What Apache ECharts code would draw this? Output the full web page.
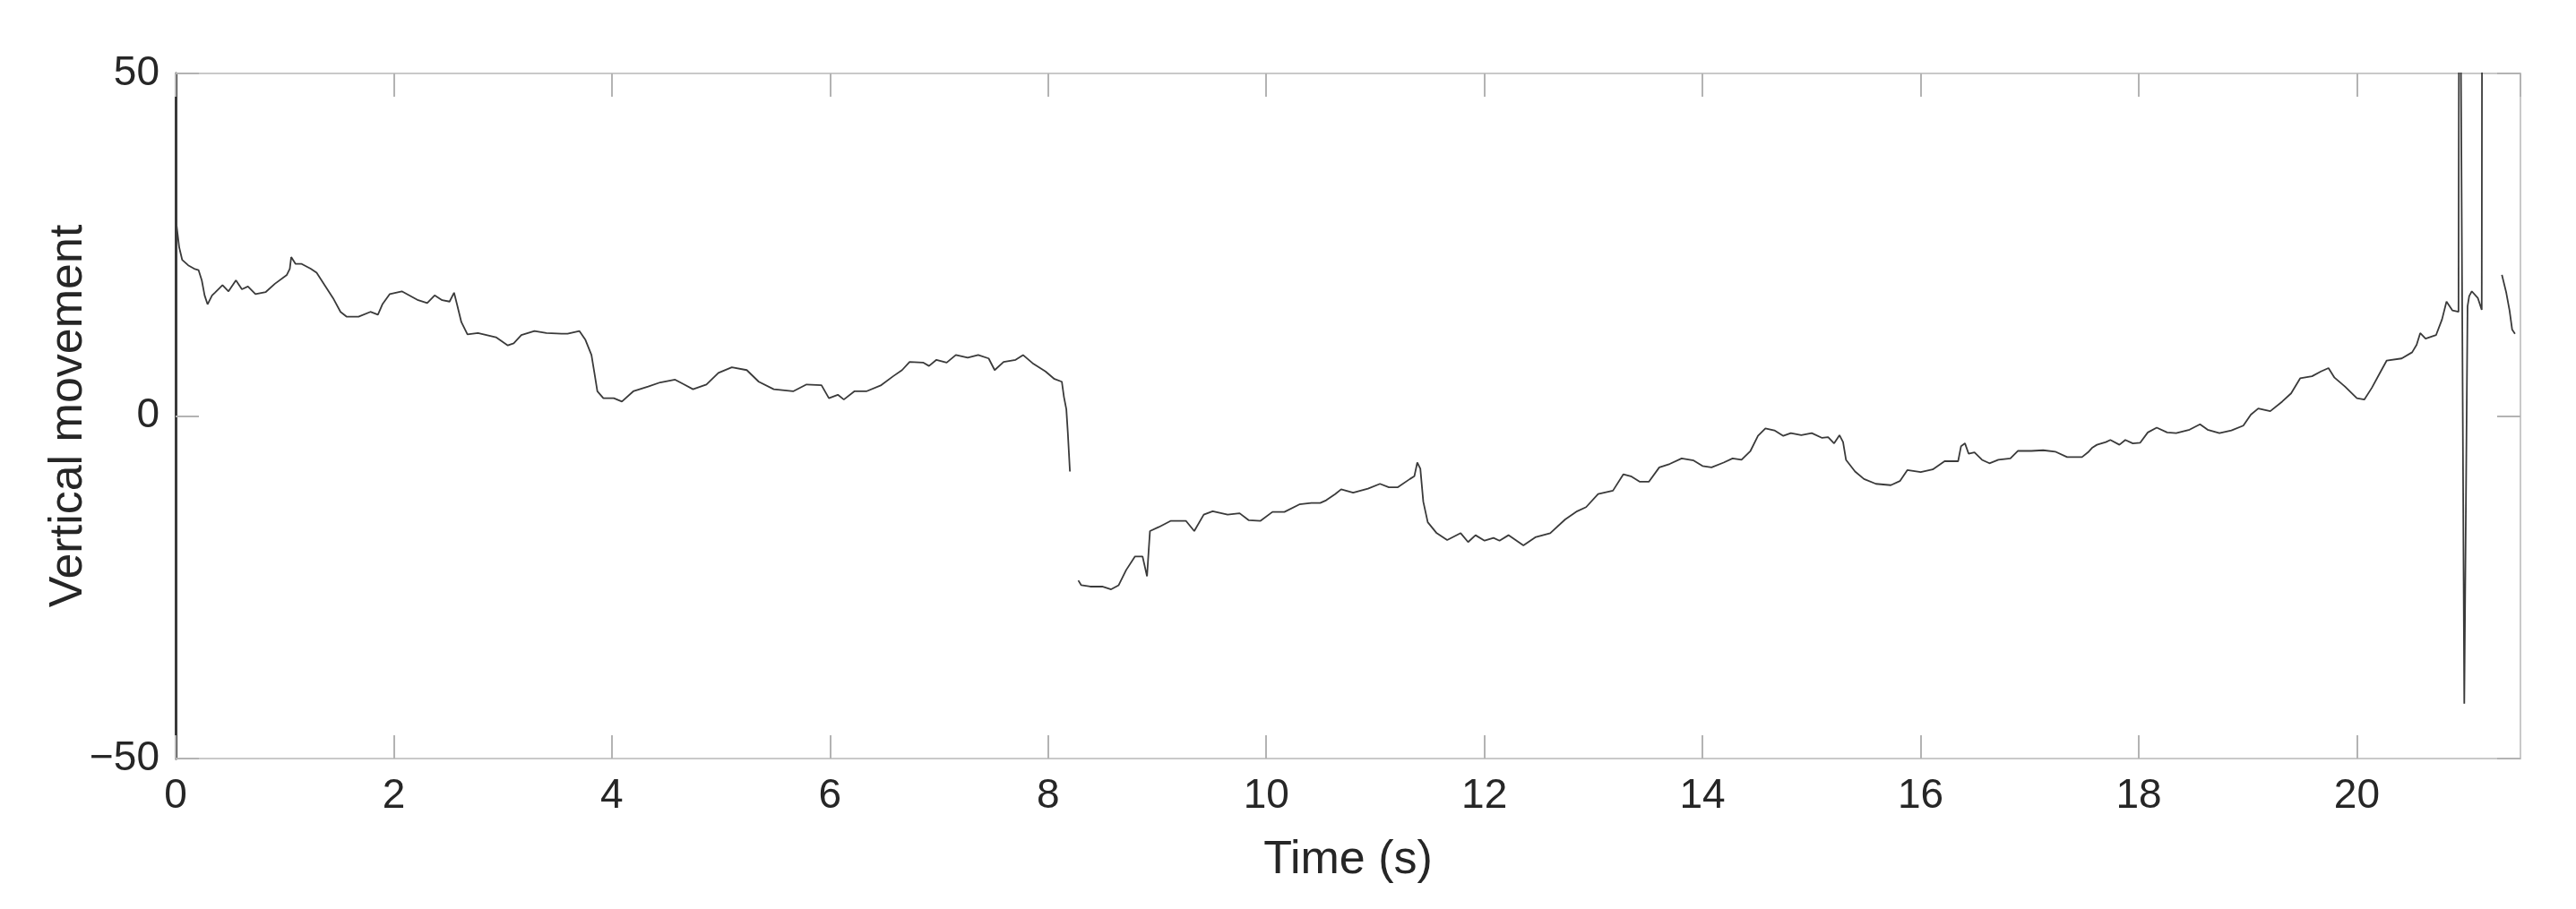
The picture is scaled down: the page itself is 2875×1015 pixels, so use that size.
<!DOCTYPE html>
<html>
<head>
<meta charset="utf-8">
<script src="https://cdn.jsdelivr.net/npm/echarts@6/dist/echarts.min.js"></script>
<style>
html,body{margin:0;padding:0;background:#fff;}
#chart{width:2875px;height:1015px;}
</style>
</head>
<body>
<div id="chart"></div>
<script>
// Time (s); null in values marks a break in the trace
const times = [
  0, 0.033, 0.06, 0.115, 0.17, 0.21, 0.24, 0.266, 0.293, 0.334, 0.36, 0.43, 0.485, 0.553, 0.608, 0.663,
  0.732, 0.827, 0.91, 1.02, 1.047, 1.06, 1.10, 1.156, 1.238, 1.293, 1.375, 1.444, 1.512, 1.567, 1.677,
  1.786, 1.855, 1.896, 1.964, 2.074, 2.224, 2.307, 2.375, 2.444, 2.512, 2.553, 2.58, 2.62, 2.676, 2.772,
  2.937, 3.046, 3.10, 3.17, 3.29, 3.40, 3.54, 3.594, 3.703, 3.758, 3.813, 3.84, 3.867, 3.922, 4.018,
  4.092, 4.196, 4.333, 4.443, 4.58, 4.662, 4.744, 4.867, 4.977, 5.10, 5.237, 5.347, 5.484, 5.662, 5.785,
  5.922, 5.99, 6.072, 6.127, 6.223, 6.333, 6.47, 6.579, 6.661, 6.73, 6.853, 6.908, 6.976, 7.07, 7.154,
  7.263, 7.359, 7.455, 7.51, 7.592, 7.702, 7.77, 7.866, 7.976, 8.058, 8.126, 8.145, 8.167, 8.181, 8.2,
  8.24,
  8.277, 8.304, 8.386, 8.496, 8.578, 8.647, 8.715, 8.797, 8.866, 8.907, 8.921, 8.934, 9.016, 9.126,
  9.263, 9.34, 9.427, 9.509, 9.646, 9.756, 9.838, 9.948, 10.057, 10.167, 10.304, 10.413, 10.495, 10.55,
  10.632, 10.687, 10.797, 10.933, 11.043, 11.125, 11.207, 11.317, 11.358, 11.385, 11.413, 11.44, 11.481,
  11.563, 11.659, 11.783, 11.851, 11.919, 12.002, 12.084, 12.139, 12.221, 12.358, 12.467, 12.604, 12.741,
  12.851, 12.933, 13.043, 13.179, 13.275, 13.344, 13.426, 13.508, 13.604, 13.7, 13.809, 13.919, 14.0,
  14.083, 14.194, 14.276, 14.358, 14.44, 14.509, 14.577, 14.659, 14.741, 14.81, 14.906, 15.002, 15.097,
  15.152, 15.207, 15.256, 15.289, 15.316, 15.399, 15.481, 15.59, 15.727, 15.81, 15.878, 16.001, 16.111,
  16.22, 16.344, 16.371, 16.407, 16.44, 16.494, 16.563, 16.631, 16.713, 16.823, 16.891, 17.015, 17.124,
  17.234, 17.343, 17.48, 17.535, 17.576, 17.617, 17.699, 17.74, 17.823, 17.877, 17.946, 18.014, 18.083,
  18.165, 18.261, 18.343, 18.466, 18.562, 18.631, 18.74, 18.85, 18.959, 19.028, 19.096, 19.206, 19.315,
  19.397, 19.48, 19.589, 19.671, 19.74, 19.795, 19.891, 20.0, 20.068, 20.137, 20.219, 20.274, 20.411,
  20.507, 20.548, 20.581, 20.63, 20.726, 20.781, 20.822, 20.877, 20.932, 20.94, 20.985, 21.015, 21.03,
  21.054, 21.11, 21.145, 21.15,
  21.25,
  21.33, 21.37, 21.4, 21.424, 21.45
];

// Vertical movement
const values = [
  29, 24.6, 22.8, 22.0, 21.5, 21.3, 19.8, 17.6, 16.3, 17.6, 18.0, 19.1, 18.2, 19.8, 18.5, 18.9,
  17.8, 18.1, 19.3, 20.6, 21.5, 23.2, 22.2, 22.2, 21.5, 20.9, 18.9, 17.2, 15.2, 14.5, 14.5,
  15.2, 14.8, 16.3, 17.8, 18.2, 16.9, 16.5, 17.6, 16.9, 16.7, 18.0, 16.3, 13.7, 11.9, 12.1,
  11.5, 10.3, 10.6, 11.8, 12.4, 12.1, 12.0, 12.0, 12.4, 11.1, 8.9, 6.3, 3.6, 2.6, 2.6,
  2.1, 3.6, 4.3, 4.9, 5.3, 4.6, 3.9, 4.6, 6.3, 7.1, 6.7, 5.0, 3.9, 3.6, 4.6,
  4.5, 2.6, 3.1, 2.4, 3.6, 3.6, 4.5, 5.8, 6.7, 7.9, 7.8, 7.3, 8.2, 7.8, 8.9,
  8.5, 8.9, 8.4, 6.7, 7.9, 8.2, 8.9, 7.6, 6.5, 5.4, 5.0, 2.8, 1.0, -2.5, -8.1,
  null,
  -24.0, -24.7, -24.9, -24.9, -25.3, -24.7, -22.5, -20.5, -20.5, -23.4, -19.9, -16.8, -16.2, -15.3,
  -15.3, -16.8, -14.4, -13.9, -14.4, -14.2, -15.2, -15.3, -14.0, -14.0, -12.9, -12.7, -12.7, -12.3,
  -11.4, -10.7, -11.2, -10.6, -9.9, -10.4, -10.4, -9.2, -8.8, -6.8, -7.7, -12.5, -15.5,
  -17.1, -18.1, -17.1, -18.4, -17.4, -18.2, -17.8, -18.2, -17.4, -18.9, -17.7, -17.1, -15.1,
  -13.9, -13.3, -11.4, -10.9, -8.5, -8.8, -9.6, -9.6, -7.5, -7.0, -6.2, -6.5, -7.3,
  -7.5, -6.8, -6.2, -6.4, -5.1, -2.9, -1.8, -2.1, -2.9, -2.5, -2.8, -2.5, -3.2,
  -3.1, -4.0, -2.8, -3.8, -6.4, -8.1, -9.2, -9.9, -10.1, -9.5, -7.9, -8.2, -7.8,
  -6.6, -6.6, -4.4, -4.0, -5.5, -5.3, -6.4, -6.9, -6.4, -6.2, -5.1, -5.1, -5.0,
  -5.2, -6.0, -6.0, -5.3, -4.6, -4.2, -3.8, -3.5, -4.2, -3.5, -4.0, -3.9, -2.4,
  -1.7, -2.4, -2.5, -2.0, -1.2, -2.0, -2.5, -2.1, -1.4, 0.2, 1.1, 0.7, 2.1,
  3.3, 5.5, 5.8, 6.5, 7.0, 5.6, 4.3, 2.6, 2.4, 4.1, 6.5, 8.1, 8.4,
  9.3, 10.4, 12.1, 11.3, 11.8, 14.1, 16.7, 15.4, 15.2, 95, -42, 16.0, 17.5,
  18.2, 17.2, 15.5, 90,
  null,
  20.6, 18.0, 15.4, 12.6, 12.0
];

const xTicks = [0, 2, 4, 6, 8, 10, 12, 14, 16, 18, 20];
const yTicks = [-50, 0, 50];

const FONT = '"Liberation Sans", Arial, Helvetica, sans-serif';
const TEXT = '#262626';
const BOX = '#c9c9c9';
const TICK = '#b3b3b3';

const seriesData = times.map((t, i) => [t, values[i] === null ? '-' : values[i]]);

const chart = echarts.init(document.getElementById('chart'), null, {renderer: 'canvas'});
chart.setOption({
  animation: false,
  backgroundColor: '#ffffff',
  grid: {left: 196, right: 62, top: 82, bottom: 168, containLabel: false},
  xAxis: [
    {
      type: 'value', position: 'bottom', min: 0, max: 21.5, interval: 2,
      name: 'Time (s)', nameLocation: 'middle', nameGap: 88, nameMoveOverlap: false,
      nameTextStyle: {fontSize: 52, color: TEXT, fontFamily: FONT},
      axisLine: {show: true, onZero: false, lineStyle: {color: BOX, width: 2}},
      axisTick: {show: true, inside: true, length: 26, lineStyle: {color: TICK, width: 2}},
      axisLabel: {fontSize: 46, color: TEXT, fontFamily: FONT, margin: 19, showMaxLabel: false,
        formatter: v => (xTicks.indexOf(v) >= 0 ? String(v) : '')},
      splitLine: {show: false}
    },
    {
      type: 'value', position: 'top', min: 0, max: 21.5, interval: 2,
      axisLine: {show: true, onZero: false, lineStyle: {color: BOX, width: 2}},
      axisTick: {show: true, inside: true, length: 26, lineStyle: {color: TICK, width: 2}},
      axisLabel: {show: false},
      splitLine: {show: false}
    }
  ],
  yAxis: [
    {
      type: 'value', position: 'left', min: -50, max: 50, interval: 50,
      name: 'Vertical movement', nameLocation: 'middle', nameGap: 93, nameRotate: 90,
      nameMoveOverlap: false,
      nameTextStyle: {fontSize: 52, color: TEXT, fontFamily: FONT},
      axisLine: {show: true, onZero: false, lineStyle: {color: '#3a3a3a', width: 3}},
      axisTick: {show: true, inside: true, length: 26, lineStyle: {color: TICK, width: 2}},
      axisLabel: {fontSize: 46, color: TEXT, fontFamily: FONT, margin: 18,
        formatter: v => (yTicks.indexOf(v) >= 0 ? String(v).replace('-', '\u2212') : '')},
      splitLine: {show: false}
    },
    {
      type: 'value', position: 'right', min: -50, max: 50, interval: 50,
      axisLine: {show: true, onZero: false, lineStyle: {color: BOX, width: 2}},
      axisTick: {show: true, inside: true, length: 26, lineStyle: {color: TICK, width: 2}},
      axisLabel: {show: false},
      splitLine: {show: false}
    }
  ],
  series: [{
    type: 'line',
    xAxisIndex: 0, yAxisIndex: 0,
    data: seriesData,
    showSymbol: false,
    symbol: 'none',
    connectNulls: false,
    clip: true,
    lineStyle: {color: '#3a3a3a', width: 1.8},
    emphasis: {disabled: true}
  }]
});
</script>
</body>
</html>
